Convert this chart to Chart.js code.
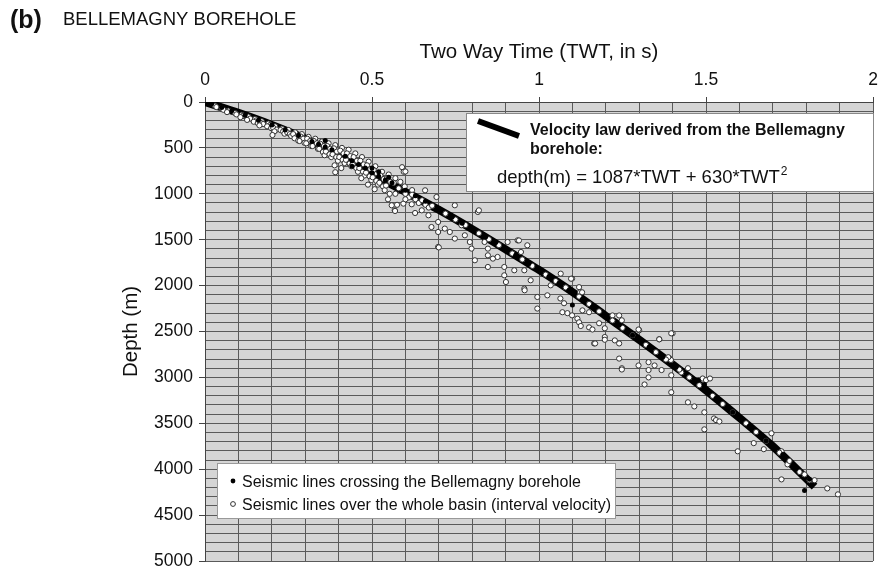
<!DOCTYPE html>
<html><head><meta charset="utf-8">
<script src="https://cdn.jsdelivr.net/npm/chart.js@4/dist/chart.umd.min.js"></script>
<style>html,body{margin:0;padding:0;background:#fff}</style>
</head><body>
<canvas id="c" width="878" height="571"></canvas>
<script>
// ---- Velocity law curve ----
const lineTWT   = [0, 0.1, 0.2, 0.3, 0.4, 0.5, 0.6, 0.7, 0.8, 0.9, 1.0, 1.1, 1.2, 1.3, 1.4, 1.5, 1.6, 1.7, 1.825];
const lineDepth = [0, 118, 250, 400, 590, 790, 980, 1175, 1385, 1605, 1830, 2070, 2330, 2590, 2860, 3140, 3440, 3750, 4190];

// ---- Seismic lines crossing the Bellemagny borehole (filled dots) ----
const filledTWT   = [0.02,0.05,0.08,0.12,0.16,0.2,0.24,0.28,0.32,0.34,0.36,0.36,0.38,0.42,0.44,0.44,0.46,0.48,0.5,0.5,0.52,0.52,0.54,0.55,0.56,0.6,0.63,0.66,0.7,0.74,0.77,0.8,0.84,0.87,0.9,0.93,0.97,1.0,1.03,1.06,1.09,1.1,1.13,1.16,1.2,1.24,1.28,1.33,1.37,1.41,1.477,1.495,1.53,1.58,1.63,1.68,1.73,1.77,1.795,1.81];
const filledDepth = [20,60,95,145,200,250,305,365,430,460,490,420,520,590,640,700,680,720,770,720,810,760,850,820,880,960,1020,1080,1160,1250,1320,1380,1470,1530,1600,1670,1760,1830,1900,1975,2050,2210,2150,2230,2330,2430,2540,2670,2780,2890,3030,3077,3230,3380,3530,3690,3840,3990,4231,4110];

// ---- Seismic lines over the whole basin (open circles) ----
const openTWT = [
 0.03,0.034,0.05,0.055,0.07,0.066,0.09,0.094,0.11,0.114,0.106,0.13,0.135,0.126,
 0.15,0.154,0.146,0.158,0.17,0.166,0.174,0.163,0.19,0.195,0.186,0.198,
 0.21,0.204,0.215,0.208,0.202,0.23,0.226,0.234,0.238,0.25,0.246,0.254,0.258,
 0.27,0.264,0.276,0.268,0.279,0.29,0.286,0.294,0.283,0.298,0.31,0.306,0.315,0.303,0.318,
 0.33,0.326,0.335,0.322,0.338,0.35,0.345,0.356,0.342,0.353,0.358,0.37,0.366,0.375,0.362,0.373,0.378,
 0.39,0.386,0.395,0.382,0.393,0.398,0.388,0.39,0.41,0.405,0.415,0.402,0.412,0.418,0.408,
 0.43,0.425,0.435,0.422,0.433,0.438,0.45,0.445,0.455,0.442,0.453,0.458,
 0.47,0.465,0.475,0.462,0.473,0.478,0.468,0.49,0.485,0.495,0.482,0.493,0.498,0.488,
 0.51,0.505,0.515,0.502,0.513,0.518,0.508,0.53,0.525,0.535,0.522,0.533,0.538,
 0.55,0.545,0.555,0.542,0.553,0.548,0.57,0.565,0.575,0.568,0.59,0.595,0.585,0.598,
 0.559,0.569,0.594,0.619,0.629,0.649,0.669,0.659,0.693,0.698,0.698,0.698,0.678,0.718,0.733,0.748,
 0.768,0.778,0.793,0.798,0.808,0.817,0.748,0.837,0.847,0.847,0.847,0.862,0.876,0.896,0.896,0.926,
 0.956,0.956,0.975,0.995,1.025,1.035,0.901,0.936,0.946,1.065,1.099,0.906,0.60,0.70,0.82,0.94,
 0.965,0.957,0.995,1.123,1.30,1.40,1.36,1.165,0.61,0.63,0.64,0.66,0.67,0.60,0.62,0.58,0.57,0.60,
 1.096,1.12,1.129,1.064,1.075,1.07,1.085,1.099,1.13,1.15,1.115,1.12,1.125,1.15,1.16,1.168,1.18,
 1.197,1.197,1.197,1.227,1.24,1.24,1.248,1.22,1.24,1.248,1.298,1.298,1.328,1.328,1.328,1.316,
 1.36,1.396,1.346,1.39,1.395,1.367,1.446,1.49,1.50,
 1.248,1.396,1.495,1.595,1.696,1.726,1.863,1.895,1.825,1.446,1.465,1.524,1.53,1.54,1.512,1.495,
 1.643,1.673,1.726,1.744,1.795,1.396,1.387,1.426,
 0.62,0.65,0.68,0.72,0.75,0.78,0.82,0.85,0.88,0.92,0.95,0.98,1.02,1.05,1.08,1.12,1.15,1.18,
 1.22,1.25,1.28,1.32,1.35,1.38,1.42,1.45,1.48,1.52,1.55,1.58,1.62,1.65,1.68,1.72,1.75,1.78,1.81
];
const openDepth = [
 40,55,70,85,95,110,120,135,140,150,165,160,180,195,
 185,200,215,230,210,225,240,255,235,250,265,285,
 265,280,300,320,360,290,305,320,345,305,330,350,370,
 330,350,375,395,420,350,375,400,425,445,380,400,425,450,480,
 400,425,450,480,510,430,455,480,510,545,580,450,480,510,540,570,600,
 470,505,540,570,600,640,690,765,500,530,560,600,630,665,720,
 520,560,590,630,670,700,560,600,640,680,720,760,
 600,640,680,720,760,800,830,650,690,730,770,810,850,900,
 700,740,780,820,860,900,950,760,800,840,880,920,960,
 790,830,870,910,1000,1060,830,880,1120,1180,710,760,870,920,
 1125,1187,1107,1114,1209,1180,1234,962,1035,1307,1416,1579,1362,1379,1416,1488,
 1343,1452,1525,1597,1724,1198,1125,1525,1597,1670,1797,1706,1688,1797,1888,1833,
 1833,2033,1942,2124,2106,1997,1961,1507,1634,1870,1924,1525,757,1584,1180,1508,
 1561,2051,2250,2072,2487,2520,2585,2630,1040,1060,1100,1120,1150,1000,960,940,1000,1060,
 1925,2017,2073,2140,2192,2290,2300,2324,2270,2290,2360,2400,2440,2455,2478,2630,2410,
 2465,2560,2590,2597,2630,2795,2900,2325,2325,2378,2478,2870,2834,2920,3000,3077,
 2585,2520,2870,2790,2810,2920,2900,3012,3030,
 2914,3162,3566,3805,3609,4111,4209,4274,4120,3271,3316,3447,3465,3480,3012,3380,
 3716,3782,3805,3947,4057,2977,2780,2946,
 1010,1070,1130,1215,1280,1340,1430,1495,1560,1650,1715,1785,1880,1950,2020,2120,2200,2280,
 2380,2460,2540,2645,2725,2805,2915,3000,3085,3200,3290,3380,3500,3595,3690,3820,3910,4030,4120
];

// ---- Axis tick labels ----
const xTickLabels = ['0', '0.5', '1', '1.5', '2'];
const yTickLabels = ['0','500','1000','1500','2000','2500','3000','3500','4000','4500','5000'];

const FONT = '"Liberation Sans", Arial, Helvetica, sans-serif';
const pts = (xs, ys) => xs.map((x, i) => ({x, y: ys[i]}));
const isMajor = (v, step) => Math.abs(v / step - Math.round(v / step)) < 1e-6;

const bgPlugin = {
  id: 'bg',
  beforeDraw(chart) {
    const {ctx, chartArea: a} = chart;
    ctx.save();
    ctx.fillStyle = '#d5d5d5';
    ctx.fillRect(a.left, a.top, a.right - a.left, a.bottom - a.top);
    ctx.restore();
  }
};

const annotPlugin = {
  id: 'annot',
  afterDraw(chart) {
    const ctx = chart.ctx;
    ctx.save();
    ctx.fillStyle = '#111';
    ctx.textBaseline = 'alphabetic';
    ctx.textAlign = 'left';
    ctx.font = 'bold 25px ' + FONT;
    ctx.fillText('(b)', 10, 28);
    ctx.font = '18.5px ' + FONT;
    ctx.fillText('BELLEMAGNY BOREHOLE', 63, 25);

    // Velocity law box
    ctx.fillStyle = '#fff';
    ctx.fillRect(466, 113, 407, 78);
    ctx.strokeStyle = '#888';
    ctx.lineWidth = 1;
    ctx.strokeRect(466.5, 113.5, 407, 78);
    ctx.strokeStyle = '#000';
    ctx.lineWidth = 6;
    ctx.beginPath(); ctx.moveTo(478, 121); ctx.lineTo(519, 136); ctx.stroke();
    ctx.fillStyle = '#111';
    ctx.font = 'bold 16px ' + FONT;
    ctx.fillText('Velocity law derived from the Bellemagny', 530, 135);
    ctx.fillText('borehole:', 530, 154);
    ctx.font = '18.5px ' + FONT;
    const eq = 'depth(m) = 1087*TWT + 630*TWT';
    ctx.fillText(eq, 497, 183);
    const w = ctx.measureText(eq).width;
    ctx.font = '12px ' + FONT;
    ctx.fillText('2', 497 + w + 1, 175);

    // Points legend box
    ctx.fillStyle = '#fff';
    ctx.fillRect(217, 463, 398, 55);
    ctx.strokeStyle = '#999';
    ctx.lineWidth = 1;
    ctx.strokeRect(217.5, 463.5, 398, 55);
    ctx.fillStyle = '#000';
    ctx.beginPath(); ctx.arc(233, 481, 2.4, 0, Math.PI * 2); ctx.fill();
    ctx.strokeStyle = '#333';
    ctx.fillStyle = '#fff';
    ctx.beginPath(); ctx.arc(233, 504, 2.4, 0, Math.PI * 2); ctx.fill(); ctx.stroke();
    ctx.fillStyle = '#111';
    ctx.font = '16px ' + FONT;
    ctx.fillText('Seismic lines crossing the Bellemagny borehole', 242, 487);
    ctx.fillText('Seismic lines over the whole basin (interval velocity)', 242, 510);
    ctx.restore();
  }
};

new Chart(document.getElementById('c'), {
  type: 'scatter',
  data: {
    datasets: [
      {
        label: 'Velocity law derived from the Bellemagny borehole',
        type: 'line',
        data: pts(lineTWT, lineDepth),
        borderColor: '#000',
        borderWidth: 8,
        pointRadius: 0,
        fill: false,
        tension: 0.3,
        order: 3
      },
      {
        label: 'Seismic lines over the whole basin (interval velocity)',
        data: pts(openTWT, openDepth),
        pointRadius: 2.6,
        pointBorderWidth: 1,
        backgroundColor: '#fff',
        borderColor: '#333',
        order: 2
      },
      {
        label: 'Seismic lines crossing the Bellemagny borehole',
        data: pts(filledTWT, filledDepth),
        pointRadius: 2.5,
        pointBorderWidth: 0,
        backgroundColor: '#000',
        borderColor: '#000',
        order: 1
      }
    ]
  },
  options: {
    responsive: false,
    animation: false,
    devicePixelRatio: 1,
    layout: {padding: {left: 0, right: 0, top: 0, bottom: 10}},
    plugins: {legend: {display: false}, tooltip: {enabled: false}},
    scales: {
      x: {
        type: 'linear', position: 'top', min: 0, max: 2,
        afterFit(s) { s.height = 102; s.paddingLeft = 0; s.paddingRight = 0; },
        ticks: {
          stepSize: 0.1, autoSkip: false, maxRotation: 0, padding: 6,
          color: '#111', font: {family: FONT, size: 17.5},
          callback: (v) => isMajor(v, 0.5) ? xTickLabels[Math.round(v / 0.5)] : ''
        },
        grid: {
          color: '#5a5a5a', lineWidth: 1, tickLength: 5,
          tickColor: (c) => (c.tick && isMajor(c.tick.value, 0.5)) ? '#444' : 'rgba(0,0,0,0)'
        },
        border: {color: '#444'},
        title: {display: true, text: 'Two Way Time (TWT, in s)', color: '#111',
                font: {family: FONT, size: 20.5}, padding: {top: 40, bottom: 0}}
      },
      y: {
        type: 'linear', reverse: true, min: 0, max: 5000,
        afterFit(s) { s.width = 205; s.paddingTop = 0; s.paddingBottom = 0; },
        ticks: {
          stepSize: 100, autoSkip: false, padding: 6,
          color: '#111', font: {family: FONT, size: 17.5},
          callback: (v) => isMajor(v, 500) ? yTickLabels[Math.round(v / 500)] : ''
        },
        grid: {
          color: '#5a5a5a', lineWidth: 1, tickLength: 6,
          tickColor: (c) => (c.tick && isMajor(c.tick.value, 500)) ? '#444' : 'rgba(0,0,0,0)'
        },
        border: {color: '#444'},
        title: {display: true, text: 'Depth (m)', color: '#111',
                font: {family: FONT, size: 20.5}, padding: {top: 119, bottom: 0}}
      }
    }
  },
  plugins: [bgPlugin, annotPlugin]
});
</script>
</body></html>
